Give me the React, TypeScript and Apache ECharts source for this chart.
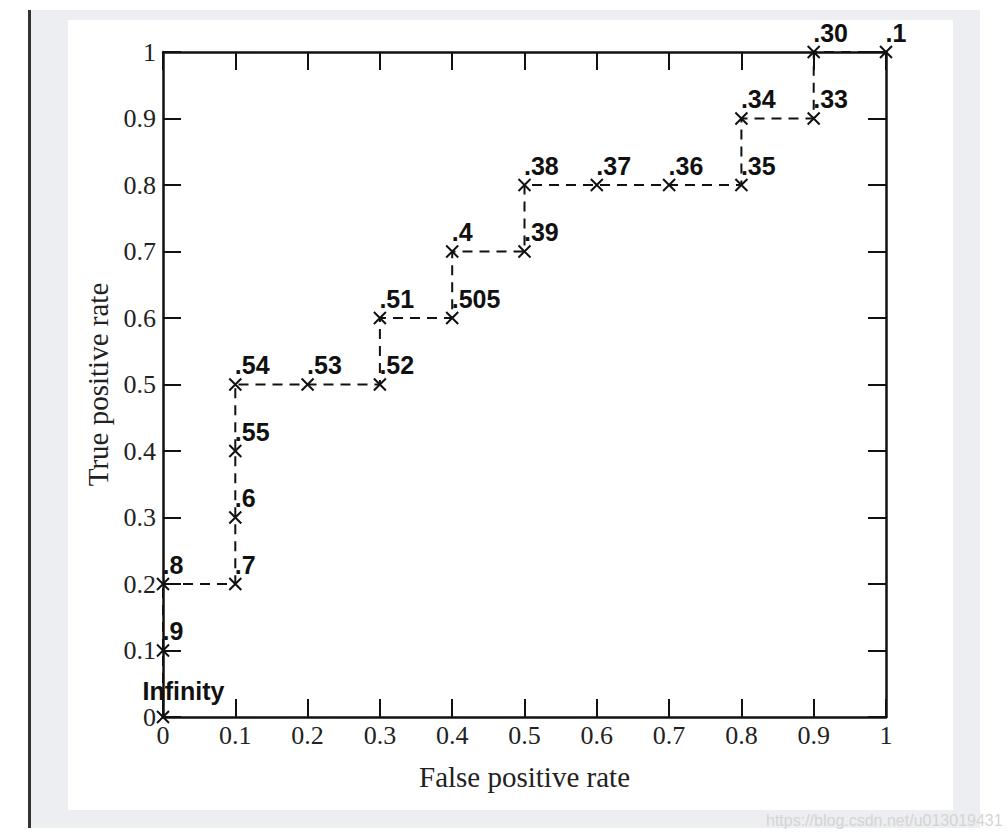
import React, { useEffect, useRef } from "react";
import * as echarts from "echarts";

const fpr = [0, 0, 0, 0.1, 0.1, 0.1, 0.1, 0.2, 0.3, 0.3, 0.4, 0.4, 0.5, 0.5, 0.6, 0.7, 0.8, 0.8, 0.9, 0.9, 1];
const tpr = [0, 0.1, 0.2, 0.2, 0.3, 0.4, 0.5, 0.5, 0.5, 0.6, 0.6, 0.7, 0.7, 0.8, 0.8, 0.8, 0.8, 0.9, 0.9, 1, 1];
const thresholds = [
  "Infinity", ".9", ".8", ".7", ".6", ".55", ".54", ".53", ".52", ".51", ".505",
  ".4", ".39", ".38", ".37", ".36", ".35", ".34", ".33", ".30", ".1",
];
const xName = "False positive rate";
const yName = "True positive rate";
const watermark = "https://blog.csdn.net/u013019431";

const SERIF = "'Liberation Serif', 'DejaVu Serif', serif";
const SANS = "'Liberation Sans', Arial, sans-serif";

export default function App() {
  const ref = useRef<HTMLDivElement>(null);
  useEffect(() => {
    if (!ref.current) return;
    const chart = echarts.init(ref.current, null, { renderer: "svg" });
    const data = fpr.map((x, i) => {
      const item: any = { value: [x, tpr[i]], name: thresholds[i] };
      if (i === 0) {
        item.label = { position: [-12, -18], lineHeight: 18 };
      }
      return item;
    });
    const mkLine = () => ({ show: true, onZero: false, lineStyle: { color: "#111", width: 2.5 } });
    const mkTick = () => ({ show: true, inside: true, length: 18, lineStyle: { color: "#111", width: 2 } });
    chart.setOption({
      animation: false,
      graphic: [
        {
          type: "text",
          left: 766,
          top: 812,
          style: {
            text: watermark,
            fill: "#d4d4d4",
            font: `16px ${SANS}`,
          },
        },
      ],
      grid: { left: 163, right: 122, top: 52, bottom: 123, containLabel: false },
      xAxis: [
        {
          type: "value",
          min: 0,
          max: 1,
          interval: 0.1,
          name: xName,
          nameLocation: "middle",
          nameGap: 45,
          nameTextStyle: { fontFamily: SERIF, fontSize: 29, color: "#222" },
          axisLine: mkLine(),
          axisTick: mkTick(),
          splitLine: { show: false },
          axisLabel: { fontFamily: SERIF, fontSize: 26, color: "#222", margin: 5 },
        },
        {
          type: "value",
          position: "top",
          min: 0,
          max: 1,
          interval: 0.1,
          axisLine: mkLine(),
          axisTick: mkTick(),
          splitLine: { show: false },
          axisLabel: { show: false },
        },
      ],
      yAxis: [
        {
          type: "value",
          min: 0,
          max: 1,
          interval: 0.1,
          name: yName,
          nameLocation: "middle",
          nameGap: 48,
          nameTextStyle: { fontFamily: SERIF, fontSize: 29, color: "#222" },
          axisLine: mkLine(),
          axisTick: mkTick(),
          splitLine: { show: false },
          axisLabel: { fontFamily: SERIF, fontSize: 26, lineHeight: 20, color: "#222", margin: 7 },
        },
        {
          type: "value",
          position: "right",
          min: 0,
          max: 1,
          interval: 0.1,
          axisLine: mkLine(),
          axisTick: mkTick(),
          splitLine: { show: false },
          axisLabel: { show: false },
        },
      ],
      series: [
        {
          type: "line",
          xAxisIndex: 0,
          yAxisIndex: 0,
          data,
          symbol: "path://M0,0L10,10M10,0L0,10",
          symbolSize: 12,
          showAllSymbol: true,
          itemStyle: { color: "none", borderColor: "#111", borderWidth: 2 },
          lineStyle: { color: "#111", width: 2, type: [10, 7] },
          label: {
            show: true,
            position: [8, -11],
            align: "left",
            verticalAlign: "middle",
            formatter: (p: any) => p.name,
            fontFamily: SANS,
            fontWeight: "bold",
            fontSize: 25,
            color: "#111",
          },
          z: 5,
        },
      ],
    });
    return () => chart.dispose();
  }, []);

  return (
    <div style={{ position: "fixed", left: 0, top: 0, width: 1008, height: 840, background: "#fff" }}>
      <div style={{ position: "absolute", left: 30, top: 10, width: 950, height: 818, background: "#eceef2" }} />
      <div style={{ position: "absolute", left: 68, top: 20, width: 885, height: 790, background: "#fff" }} />
      <div style={{ position: "absolute", left: 28, top: 10, width: 3, height: 818, background: "#333" }} />
      <div ref={ref} style={{ position: "absolute", left: 0, top: 0, width: 1008, height: 840 }} />
    </div>
  );
}
